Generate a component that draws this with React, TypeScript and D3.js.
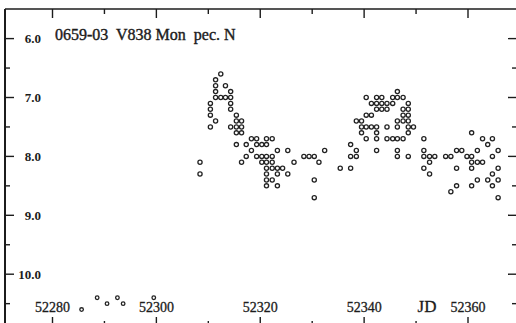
import React, { useEffect, useRef } from 'react';
import * as d3 from 'd3';

// visual estimates, JD vs magnitude
const observations: [number, number][] = [
  [52308.4, 8.1], [52308.4, 8.3],
  [52310.4, 7.1], [52310.4, 7.2], [52310.4, 7.3], [52310.4, 7.5],
  [52311.4, 6.7], [52311.4, 6.8], [52311.4, 6.9], [52311.4, 7.0], [52311.4, 7.4],
  [52312.4, 6.6], [52312.4, 7.0],
  [52313.3, 6.8], [52313.3, 7.0],
  [52314.3, 6.9], [52314.3, 7.0], [52314.3, 7.1], [52314.3, 7.2], [52314.3, 7.5],
  [52315.4, 7.3], [52315.4, 7.4], [52315.4, 7.5], [52315.4, 7.6], [52315.4, 7.8],
  [52316.4, 7.4], [52316.4, 7.5], [52316.4, 7.6], [52316.4, 8.1],
  [52317.3, 7.8], [52317.3, 8.0],
  [52318.3, 7.7], [52318.3, 7.9],
  [52319.3, 7.7], [52319.3, 7.8], [52319.3, 8.0],
  [52320.3, 7.8], [52320.3, 8.0], [52320.3, 8.1],
  [52321.2, 7.7], [52321.2, 7.8], [52321.2, 8.0], [52321.2, 8.1], [52321.2, 8.2], [52321.2, 8.3], [52321.2, 8.4], [52321.2, 8.5],
  [52322.3, 7.7], [52322.3, 8.0], [52322.3, 8.1], [52322.3, 8.2], [52322.3, 8.4],
  [52323.3, 7.9], [52323.3, 8.2], [52323.3, 8.3], [52323.3, 8.5],
  [52324.3, 8.2],
  [52325.3, 7.9], [52325.3, 8.3],
  [52326.5, 8.1],
  [52328.4, 8.0],
  [52329.4, 8.0],
  [52330.4, 8.0], [52330.4, 8.4], [52330.4, 8.7],
  [52331.3, 8.1],
  [52332.4, 7.9],
  [52335.4, 8.2],
  [52337.4, 7.8], [52337.4, 8.0], [52337.4, 8.2],
  [52338.5, 7.4], [52338.5, 7.9], [52338.5, 8.0],
  [52339.5, 7.4], [52339.5, 7.5], [52339.5, 7.6],
  [52340.4, 7.0], [52340.4, 7.3], [52340.4, 7.5], [52340.4, 7.7],
  [52341.4, 7.1], [52341.4, 7.3], [52341.4, 7.5],
  [52342.4, 7.0], [52342.4, 7.1], [52342.4, 7.2], [52342.4, 7.5], [52342.4, 7.6], [52342.4, 7.7], [52342.4, 7.9],
  [52343.4, 7.0], [52343.4, 7.1], [52343.4, 7.2],
  [52344.4, 7.1], [52344.4, 7.2], [52344.4, 7.5], [52344.4, 7.7],
  [52345.5, 7.0], [52345.5, 7.1], [52345.5, 7.7],
  [52346.4, 6.9], [52346.4, 7.0], [52346.4, 7.4], [52346.4, 7.5], [52346.4, 7.7], [52346.4, 7.9], [52346.4, 8.0],
  [52347.5, 7.0], [52347.5, 7.2], [52347.5, 7.3], [52347.5, 7.4], [52347.5, 7.7],
  [52348.5, 7.1], [52348.5, 7.2], [52348.5, 7.3], [52348.5, 7.4], [52348.5, 7.5], [52348.5, 7.6], [52348.5, 8.0],
  [52349.5, 7.5],
  [52351.5, 7.7], [52351.5, 7.9], [52351.5, 8.0], [52351.5, 8.2],
  [52352.6, 8.0], [52352.6, 8.1], [52352.6, 8.3],
  [52353.6, 8.0],
  [52355.7, 8.0],
  [52356.7, 8.0], [52356.7, 8.6],
  [52357.8, 7.9], [52357.8, 8.2], [52357.8, 8.5],
  [52358.8, 7.9],
  [52359.8, 8.0],
  [52360.7, 7.6], [52360.7, 8.0], [52360.7, 8.1], [52360.7, 8.2], [52360.7, 8.5],
  [52361.8, 7.9], [52361.8, 8.1], [52361.8, 8.4],
  [52362.8, 7.7], [52362.8, 8.1],
  [52363.8, 7.8], [52363.8, 8.4],
  [52364.7, 7.7], [52364.7, 8.0], [52364.7, 8.3], [52364.7, 8.5],
  [52365.8, 7.9], [52365.8, 8.2], [52365.8, 8.4], [52365.8, 8.7],
];

// pre-outburst faint estimates
const faintObs: [number, number][] = [
  [52285.6, 10.6], [52288.6, 10.4], [52290.5, 10.5],
  [52292.5, 10.4], [52293.6, 10.5], [52299.5, 10.4],
];

const magMajor = [6, 7, 8, 9, 10];
const magMinor = [6.5, 7.5, 8.5, 9.5, 10.5];
const jdMajor = [52280, 52300, 52320, 52340, 52360];
const jdMinor = [52290, 52310, 52330, 52350];
const title = '0659-03  V838 Mon  pec. N';
const xName = 'JD';

const W = 516;
const H = 323;
const frame = { left: 5, top: 9, right: 517, bottom: 326 };
const ink = '#1c1c1c';
const serif = '"Liberation Serif", "Times New Roman", serif';

export default function App() {
  const ref = useRef<SVGSVGElement>(null);

  useEffect(() => {
    const svg = d3.select(ref.current);
    svg.selectAll('*').remove();

    const x = d3.scaleLinear().domain([52280, 52360]).range([52.5, 468]);
    const y = d3.scaleLinear().domain([6, 10]).range([38.6, 274.2]);

    svg.append('rect').attr('width', W).attr('height', H).attr('fill', '#fff');

    // frame
    svg.append('line')
      .attr('x1', frame.left).attr('x2', frame.left)
      .attr('y1', frame.top).attr('y2', frame.bottom)
      .attr('stroke', ink).attr('stroke-width', 2);
    svg.append('line')
      .attr('x1', frame.left).attr('x2', frame.right)
      .attr('y1', frame.top).attr('y2', frame.top)
      .attr('stroke', ink).attr('stroke-width', 1.5);
    svg.append('line')
      .attr('x1', frame.right).attr('x2', frame.right)
      .attr('y1', frame.top).attr('y2', frame.bottom)
      .attr('stroke', ink).attr('stroke-width', 1.5);
    svg.append('line')
      .attr('x1', frame.left).attr('x2', frame.right)
      .attr('y1', frame.bottom).attr('y2', frame.bottom)
      .attr('stroke', ink).attr('stroke-width', 1.5);

    const ticks = svg.append('g').attr('stroke', ink).attr('stroke-width', 1.4);

    // magnitude ticks, left and right
    const magTicks = [
      ...magMajor.map(m => ({ m, len: 9 })),
      ...magMinor.map(m => ({ m, len: 5 })),
    ];
    ticks.selectAll('line.yl').data(magTicks).enter().append('line')
      .attr('x1', frame.left).attr('x2', d => frame.left + d.len)
      .attr('y1', d => y(d.m)).attr('y2', d => y(d.m));
    ticks.selectAll('line.yr').data(magTicks).enter().append('line')
      .attr('x1', frame.right).attr('x2', d => frame.right - d.len)
      .attr('y1', d => y(d.m)).attr('y2', d => y(d.m));

    // JD ticks, top and bottom
    const jdTicks = [
      ...jdMajor.map(j => ({ j, len: 9 })),
      ...jdMinor.map(j => ({ j, len: 5 })),
    ];
    ticks.selectAll('line.xt').data(jdTicks).enter().append('line')
      .attr('x1', d => x(d.j)).attr('x2', d => x(d.j))
      .attr('y1', frame.top).attr('y2', d => frame.top + d.len);
    ticks.selectAll('line.xb').data(jdTicks).enter().append('line')
      .attr('x1', d => x(d.j)).attr('x2', d => x(d.j))
      .attr('y1', frame.bottom).attr('y2', d => frame.bottom - d.len);

    // labels
    svg.append('g').selectAll('text').data(magMajor).enter().append('text')
      .attr('x', 41).attr('y', d => y(d)).attr('dy', '0.35em')
      .attr('text-anchor', 'end')
      .attr('font-family', serif).attr('font-size', 13).attr('font-weight', 'bold')
      .attr('fill', ink)
      .text(d => d.toFixed(1));

    svg.append('g').selectAll('text').data(jdMajor).enter().append('text')
      .attr('x', d => x(d)).attr('y', 312)
      .attr('text-anchor', 'middle')
      .attr('font-family', serif).attr('font-size', 14)
      .attr('fill', ink).attr('stroke', ink).attr('stroke-width', 0.3)
      .text(d => d);

    svg.append('text')
      .attr('x', 427).attr('y', 312)
      .attr('text-anchor', 'middle')
      .attr('font-family', serif).attr('font-size', 17)
      .attr('fill', ink).attr('stroke', ink).attr('stroke-width', 0.3)
      .text(xName);

    svg.append('text')
      .attr('x', 55).attr('y', 40)
      .attr('font-family', serif).attr('font-size', 16)
      .style('white-space', 'pre')
      .attr('fill', ink).attr('stroke', ink).attr('stroke-width', 0.4)
      .text(title);

    // points
    const pts = svg.append('g')
      .attr('fill', '#fff').attr('stroke', '#222').attr('stroke-width', 1.3);
    pts.selectAll('circle.o').data(observations).enter().append('circle')
      .attr('cx', d => x(d[0])).attr('cy', d => y(d[1])).attr('r', 2.1);
    pts.selectAll('circle.f').data(faintObs).enter().append('circle')
      .attr('cx', d => x(d[0])).attr('cy', d => y(d[1])).attr('r', 1.8);
  }, []);

  return (
    <svg ref={ref} width={W} height={H}
      style={{ position: 'absolute', left: 0, top: 0, display: 'block' }} />
  );
}
